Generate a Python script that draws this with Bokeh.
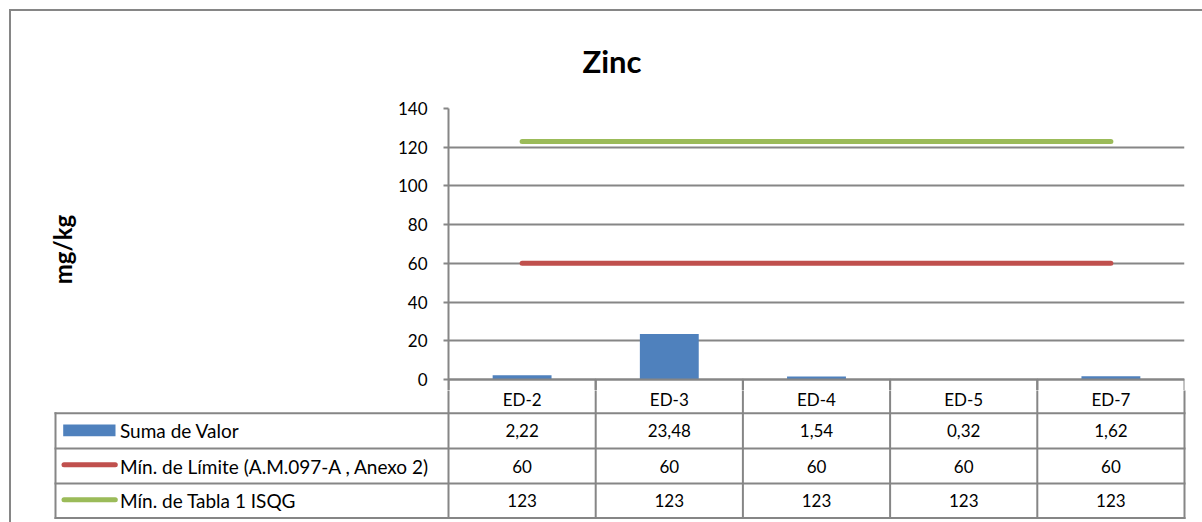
from bokeh.plotting import figure
from bokeh.layouts import column
from bokeh.models import Range1d, FactorRange, FixedTicker
from bokeh.embed import file_html
from bokeh.resources import INLINE
from bokeh.core.properties import value

# ---------------- data ----------------
categories = ["ED-2", "ED-3", "ED-4", "ED-5", "ED-7"]
suma_valor = [2.22, 23.48, 1.54, 0.32, 1.62]
limite_am097 = [60, 60, 60, 60, 60]
tabla1_isqg = [123, 123, 123, 123, 123]
series_names = ["Suma de Valor", "Mín. de Límite (A.M.097-A , Anexo 2)", "Mín. de Tabla 1 ISQG"]
y_ticks = [0, 20, 40, 60, 80, 100, 120, 140]
title_text = "Zinc"
y_label = "mg/kg"

# ---------------- style / layout ----------------
BLUE = "#4F81BD"
RED = "#C0504D"
GREEN = "#9BBB59"
GRAY = "#868686"
FONT = "Lato"
FS = "17px"
FS_LEGEND = "19px"

W = 1202
TOP_H = 390          # chart part (incl. top of the header row of the data table)
BOT_H = 522 - TOP_H  # rest of the data table
F_LEFT, F_RIGHT, F_TOP = 448, 1184, 108
Y0 = 379.0           # pixel row of value 0
px_per_unit = (Y0 - F_TOP) / y_ticks[-1]
y_start = -(TOP_H - Y0) / px_per_unit

TBL_LEFT = 55
row_y = [Y0, 412.7, 448.0, 483.0, 517.5]
row_c = [(row_y[i] + row_y[i + 1]) / 2 for i in range(4)]
HEADER_TEXT_Y = row_c[0] + 3.5

def to_data_y(py):
    return -(py - Y0) / px_per_unit

def fmt(v):
    if float(v).is_integer():
        return str(int(v))
    return f"{v:.2f}".replace(".", ",")

# ================= chart =================
p = figure(width=W, height=TOP_H, x_range=FactorRange(*categories),
           y_range=Range1d(y_start, y_ticks[-1]),
           output_backend="svg", toolbar_location=None, x_axis_location=None,
           min_border_left=F_LEFT, min_border_right=W - F_RIGHT,
           min_border_top=F_TOP, min_border_bottom=0)
p.outline_line_color = None
p.background_fill_color = "white"
p.border_fill_color = None

p.title.text = title_text
p.title.align = "left"
p.title.offset = 582 - F_LEFT
p.title.standoff = 57
p.title.text_font = FONT
p.title.text_font_size = "31px"
p.title.text_font_style = "bold"
p.title.text_color = "black"

ax = p.yaxis[0]
ax.ticker = FixedTicker(ticks=y_ticks)
ax.axis_line_color = GRAY
ax.axis_line_width = 2
ax.major_tick_line_color = GRAY
ax.major_tick_line_width = 2
ax.major_tick_out = 5
ax.major_tick_in = 0
ax.minor_tick_line_color = None
ax.major_label_text_font = FONT
ax.major_label_text_font_size = FS
ax.major_label_text_color = "black"
ax.major_label_standoff = 16
ax.axis_label = y_label
ax.axis_label_text_font = FONT
ax.axis_label_text_font_size = "24px"
ax.axis_label_text_font_style = "bold"
ax.axis_label_text_color = "black"
ax.axis_label_standoff = 318

p.xgrid.grid_line_color = None
p.ygrid.ticker = FixedTicker(ticks=y_ticks)
p.ygrid.grid_line_color = GRAY
p.ygrid.grid_line_width = 2

p.vbar(x=categories, top=suma_valor, width=0.4, color=BLUE, line_color=None)
p.line(x=categories, y=limite_am097, line_width=5, color=RED, line_cap="round")
p.line(x=categories, y=tabla1_isqg, line_width=5, color=GREEN, line_cap="round")

# top part of the header-row cells of the data table
n = len(categories)
h_top, h_bot = to_data_y(row_y[0]), to_data_y(row_y[1])
p.rect(x=categories, y=[(h_top + h_bot) / 2] * n, width=1, height=h_top - h_bot,
       fill_color=None, line_color=GRAY, line_width=2)

# ================= data table =================
t = figure(width=W, height=BOT_H, x_range=Range1d(0, W), y_range=Range1d(522, TOP_H),
           output_backend="svg", toolbar_location=None,
           x_axis_location=None, y_axis_location=None,
           min_border_left=0, min_border_right=0, min_border_top=0, min_border_bottom=0)
t.outline_line_color = None
t.background_fill_color = None
t.border_fill_color = None
t.grid.visible = False

for fig in (p, t):
    if "frame_align" in fig.properties():
        fig.frame_align = False

col_w = (F_RIGHT - F_LEFT) / n
col_x = [F_LEFT + i * col_w for i in range(n + 1)]
col_c = [F_LEFT + (i + 0.5) * col_w for i in range(n)]

t.segment(x0=[TBL_LEFT] * 4, x1=[F_RIGHT] * 4, y0=row_y[1:], y1=row_y[1:],
          line_color=GRAY, line_width=2, line_cap="square")
t.segment(x0=col_x, x1=col_x, y0=[TOP_H] * (n + 1), y1=[row_y[-1]] * (n + 1),
          line_color=GRAY, line_width=2, line_cap="square")
t.segment(x0=[TBL_LEFT], x1=[TBL_LEFT], y0=[row_y[1]], y1=[row_y[-1]],
          line_color=GRAY, line_width=2, line_cap="square")

# header (categories) and values
t.text(x=col_c, y=[HEADER_TEXT_Y] * n, text=categories, text_align="center",
       text_baseline="middle", text_font=value(FONT), text_font_size=FS, text_color="black")
for vals, yc in zip([suma_valor, limite_am097, tabla1_isqg], row_c[1:]):
    t.text(x=col_c, y=[yc] * n, text=[fmt(v) for v in vals], text_align="center",
           text_baseline="middle", text_font=value(FONT), text_font_size=FS,
           text_color="black")

# legend keys
t.rect(x=[88.85], y=[429.85], width=52.3, height=11.7, fill_color=BLUE, line_color=None)
t.segment(x0=[63.5], x1=[114.8], y0=[464.3], y1=[464.3], line_color=RED,
          line_width=5, line_cap="round")
t.segment(x0=[63.5], x1=[114.8], y0=[499.3], y1=[499.3], line_color=GREEN,
          line_width=5, line_cap="round")
t.text(x=[119.5] * 3, y=row_c[1:], text=series_names, text_align="left",
       text_baseline="middle", text_font=value(FONT), text_font_size=FS_LEGEND,
       text_color="black")

layout = column(p, t, spacing=0, styles={
    "background-image": "linear-gradient(#868686,#868686), linear-gradient(#868686,#868686)",
    "background-size": "2px 100%, 100% 2px",
    "background-position": "9px 9px, 9px 9px",
    "background-repeat": "no-repeat",
    "background-color": "white",
})

open("out.html", "w").write(file_html(layout, INLINE))
